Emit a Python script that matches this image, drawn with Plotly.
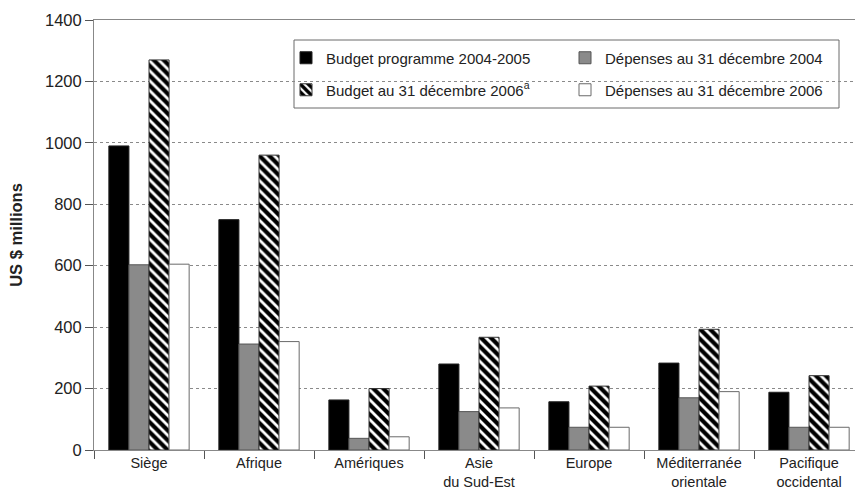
import plotly.graph_objects as go

categories = ["Siège", "Afrique", "Amériques", "Asie<br>du Sud-Est", "Europe",
              "Méditerranée<br>orientale", "Pacifique<br>occidental"]
budget_programme_2004_2005 = [990, 750, 163, 280, 157, 283, 188]
depenses_2004 = [603, 345, 38, 125, 74, 170, 74]
budget_2006 = [1270, 960, 200, 367, 208, 393, 242]
depenses_2006 = [605, 353, 43, 137, 74, 190, 74]
series_names = ["Budget programme 2004-2005", "Dépenses au 31 décembre 2004",
                "Budget au 31 décembre 2006<sup>a</sup>", "Dépenses au 31 décembre 2006"]
y_ticks = [0, 200, 400, 600, 800, 1000, 1200, 1400]

W, H = 855, 489
L, R, T, B = 94, 0, 20, 39
pw, ph = W - L - R, H - T - B


def px_x(x):
    return (x - L) / pw


def px_y(y):
    return (H - B - y) / ph


edge = dict(color="#555555", width=1)
fig = go.Figure()
fig.add_trace(go.Bar(x=categories, y=budget_programme_2004_2005, name=series_names[0],
                     marker=dict(color="#000000", line=dict(color="#222", width=1)),
                     legend="legend"))
fig.add_trace(go.Bar(x=categories, y=depenses_2004, name=series_names[1],
                     marker=dict(color="#8a8a8a", line=edge), legend="legend"))
fig.add_trace(go.Bar(x=categories, y=budget_2006, name=series_names[2],
                     marker=dict(color="#ffffff", line=dict(color="#333", width=1),
                                 pattern=dict(shape="\\", fgcolor="#000000", bgcolor="#ffffff",
                                              fgopacity=1, size=7, solidity=0.6)),
                     legend="legend2"))
fig.add_trace(go.Bar(x=categories, y=depenses_2006, name=series_names[3],
                     marker=dict(color="#ffffff", line=dict(color="#6a6a6a", width=1)),
                     legend="legend2"))

leg_common = dict(orientation="h", xanchor="left", yanchor="middle",
                  entrywidth=234, entrywidthmode="pixels",
                  bgcolor="rgba(0,0,0,0)", borderwidth=0,
                  font=dict(size=15, color="#222"), itemwidth=30)

fig.update_layout(
    width=W, height=H,
    margin=dict(l=L, r=R, t=T, b=B),
    paper_bgcolor="white", plot_bgcolor="white",
    font=dict(family="Liberation Sans, Arial, sans-serif", size=14, color="#222"),
    barmode="group", bargap=0.27, bargroupgap=0,
    legend=dict(x=px_x(286), y=px_y(58), **leg_common),
    legend2=dict(x=px_x(286), y=px_y(90), **leg_common),
    xaxis=dict(range=[-0.5, 6.418], tickson="boundaries", ticks="outside", ticklen=8,
               tickcolor="#555", showline=True, linecolor="#888", linewidth=1, mirror=True,
               showgrid=False, tickfont=dict(size=14.5, color="#222"), automargin=False),
    yaxis=dict(range=[0, 1400], tickvals=y_ticks, ticks="outside", ticklen=8, tickcolor="#555",
               showline=True, linecolor="#888", linewidth=1,
               showgrid=True, gridcolor="#8a8a8a", griddash="dot", gridwidth=1,
               zeroline=False, tickfont=dict(size=16.5, color="#222"), automargin=False,
               title=dict(text="<b>US $ millions</b>", font=dict(size=16.5, color="#222"),
                          standoff=18)),
    shapes=[dict(type="rect", xref="paper", yref="paper",
                 x0=px_x(294), x1=px_x(839), y0=px_y(108), y1=px_y(40),
                 line=dict(color="#6a6a6a", width=1), fillcolor="white", layer="between")],
)

fig.write_html("out.html", config={"displayModeBar": False},
               post_script="document.body.style.margin='0px';document.body.style.overflow='hidden';")
